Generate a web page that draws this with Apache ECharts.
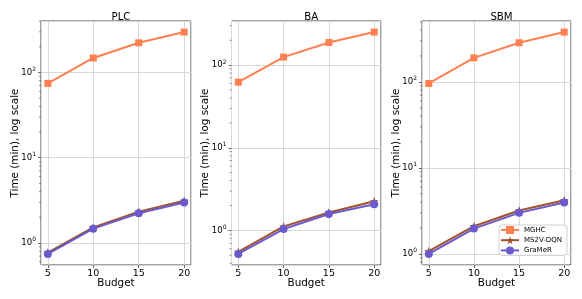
<!DOCTYPE html>
<html>
<head>
<meta charset="utf-8">
<script src="https://cdn.jsdelivr.net/npm/echarts@6/dist/echarts.min.js"></script>
<style>html,body{margin:0;padding:0;background:#fff;}#c{width:582px;height:299px;}</style>
</head>
<body>
<div id="c"></div>
<script>
const budgets = [5, 10, 15, 20];
const panelTitles = ['PLC', 'BA', 'SBM'];
const seriesNames = ['MGHC', 'MS2V-DQN', 'GraMeR'];

const plcMGHC = [74.5, 148, 223, 298];
const plcMS2V = [0.77, 1.52, 2.33, 3.12];
const plcGraMeR = [0.743, 1.47, 2.23, 2.98];

const baMGHC = [62.2, 125, 188, 251];
const baMS2V = [0.55, 1.12, 1.65, 2.25];
const baGraMeR = [0.52, 1.04, 1.58, 2.07];

const sbmMGHC = [95.8, 190, 285, 379];
const sbmMS2V = [1.08, 2.1, 3.2, 4.2];
const sbmGraMeR = [1.0, 1.97, 3.0, 3.96];

const panels = [
  [plcMGHC, plcMS2V, plcGraMeR],
  [baMGHC, baMS2V, baGraMeR],
  [sbmMGHC, sbmMS2V, sbmGraMeR]
];

const colors = ['#FF7F50', '#A0522D', '#6A5ACD'];
const FONT = 'DejaVu Sans';

function starPath() {
  const pts = [];
  for (let i = 0; i < 10; i++) {
    const r = i % 2 === 0 ? 1 : 0.4;
    const a = -Math.PI / 2 + i * Math.PI / 5;
    pts.push((r * Math.cos(a)).toFixed(3) + ',' + (r * Math.sin(a)).toFixed(3));
  }
  return 'path://M' + pts.join('L') + 'Z';
}
const symbols = ['rect', starPath(), 'circle'];
const symbolSizes = [7, 9, 8];

function logLimits(arrs) {
  const all = [].concat(...arrs);
  const lo = Math.log10(Math.min(...all));
  const hi = Math.log10(Math.max(...all));
  const m = (hi - lo) * 0.05;
  return [Math.pow(10, lo - m), Math.pow(10, hi + m)];
}

const xMin = 4.25, xMax = 20.75;
const gridsPos = [
  {left: 41, top: 21, width: 150, height: 244},
  {left: 231.5, top: 21, width: 149.5, height: 244},
  {left: 422, top: 21, width: 149, height: 244}
];

const grid = [], xAxis = [], yAxis = [], series = [], title = [];
panels.forEach((p, i) => {
  const lim = logLimits(p);
  const g = gridsPos[i];
  grid.push(Object.assign({show: true, borderColor: '#444', borderWidth: 1, backgroundColor: 'transparent', containLabel: false}, g));
  title.push({
    text: panelTitles[i], left: g.left + g.width / 2, top: 7, textAlign: 'center',
    textStyle: {fontFamily: FONT, fontSize: 10.2, fontWeight: 'normal', color: '#000'}
  });
  xAxis.push({
    gridIndex: i, type: 'value', min: xMin, max: xMax, splitNumber: 3,
    name: 'Budget', nameLocation: 'middle', nameGap: 13.5, nameMoveOverlap: false,
    nameTextStyle: {fontFamily: FONT, fontSize: 10.4, color: '#000'},
    axisLine: {show: false},
    axisTick: {show: true, length: 3, lineStyle: {color: '#444', width: 0.8}},
    axisLabel: {fontFamily: FONT, fontSize: 9.5, color: '#000', margin: 4, showMinLabel: false, showMaxLabel: false},
    splitLine: {show: true, lineStyle: {color: '#d8d8d8', width: 1}}
  });
  yAxis.push({
    gridIndex: i, type: 'log', logBase: 10, min: lim[0], max: lim[1],
    name: 'Time (min), log scale', nameLocation: 'middle', nameGap: 21, nameMoveOverlap: false,
    nameTextStyle: {fontFamily: FONT, fontSize: 10.4, color: '#000'},
    axisLine: {show: false},
    axisTick: {show: true, length: 3, lineStyle: {color: '#444', width: 0.8}},
    axisLabel: {
      fontFamily: FONT, fontSize: 8.5, color: '#000', margin: 5,
      showMinLabel: false, showMaxLabel: false,
      formatter: v => '{b|10}{s|' + Math.round(Math.log10(v)) + '}',
      rich: {
        b: {fontFamily: FONT, fontSize: 8.5, color: '#000'},
        s: {fontFamily: FONT, fontSize: 6, color: '#000', padding: [0, 0, 6, 0]}
      }
    },
    splitLine: {show: true, lineStyle: {color: '#d8d8d8', width: 1}}
  });
  p.forEach((vals, k) => {
    series.push({
      name: seriesNames[k], type: 'line', xAxisIndex: i, yAxisIndex: i,
      data: budgets.map((b, j) => [b, vals[j]]),
      symbol: symbols[k], symbolSize: symbolSizes[k], showSymbol: true,
      color: colors[k], lineStyle: {width: 2, color: colors[k]},
      itemStyle: {color: colors[k]}, z: 3 + k, animation: false
    });
  });
  // minor log ticks on left spine
  const minors = [];
  for (let e = -2; e <= 3; e++) {
    for (let m = 2; m <= 9; m++) {
      const v = m * Math.pow(10, e);
      if (v > lim[0] && v < lim[1]) minors.push([xMin, v]);
    }
  }
  series.push({
    type: 'custom', xAxisIndex: i, yAxisIndex: i, silent: true, animation: false,
    data: minors, clip: false, z: 10,
    renderItem: (params, api) => {
      const pt = api.coord([api.value(0), api.value(1)]);
      return {type: 'line', shape: {x1: pt[0] - 2, y1: pt[1], x2: pt[0], y2: pt[1]},
        style: {stroke: '#444', lineWidth: 0.6}};
    }
  });
});

const chart = echarts.init(document.getElementById('c'), null, {renderer: 'canvas'});
chart.setOption({
  animation: false,
  backgroundColor: '#fff',
  title, grid, xAxis, yAxis, series,
  legend: {
    data: seriesNames, orient: 'vertical', left: 499, top: 225,
    itemWidth: 18, itemHeight: 10, itemGap: 2.2,
    backgroundColor: 'rgba(255,255,255,0.85)', borderColor: '#d0d0d0', borderWidth: 1, borderRadius: 3,
    padding: [1, 5, 1, 1],
    textStyle: {fontFamily: FONT, fontSize: 7, color: '#000'}
  }
});
</script>
</body>
</html>
